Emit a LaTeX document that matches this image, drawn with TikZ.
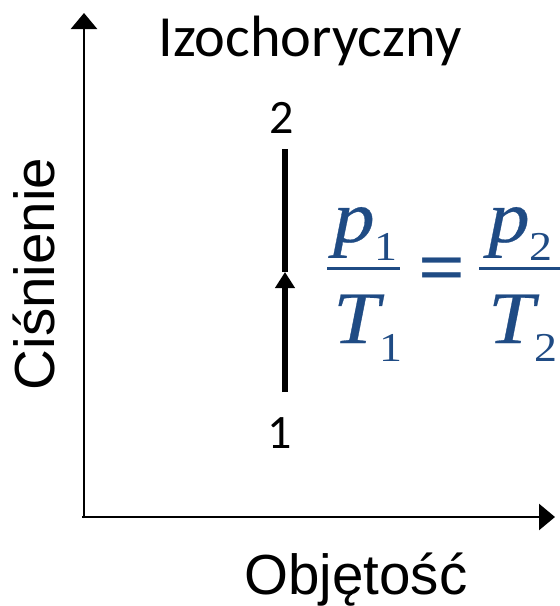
\documentclass[tikz,border=0pt]{standalone}
\usepackage{fontspec}
\setmainfont{Carlito}
\newfontfamily\arialfont{Liberation Sans}
\newfontfamily\timesfont{Liberation Serif}[ItalicFeatures={FakeBold=0.4}]
\usepackage{tikz}
\usetikzlibrary{arrows.meta}
\definecolor{formblue}{RGB}{31,75,132}
\newcommand{\formsub}[1]{\raisebox{-18pt}{\upshape\fontsize{41}{44}\selectfont #1}}

\begin{document}
\begin{tikzpicture}[x=1pt, y=-1pt,
        axis/.style = {line width=2.6pt, -{Triangle[width=26pt,length=16pt]}},
        isochore/.style = {line width=6.5pt},
        axislabel/.style = {font=\arialfont\fontsize{56.5}{60}\selectfont, inner sep=0pt, anchor=base},
        pointlabel/.style = {font=\fontsize{48}{52}\selectfont, inner sep=0pt},
        formtext/.style = {font=\timesfont\fontsize{74}{80}\selectfont\itshape, text=formblue, inner sep=0pt, anchor=base west, xscale=1.12, transform shape},
        formbar/.style = {formblue, line width=3pt}]
            \useasboundingbox (0,0) rectangle (560,606);
            \coordinate (O) at (84,517);
            \coordinate (Ytop) at (84,13);
            \coordinate (Xend) at (555,517);
            \coordinate (S1) at (285,392);
            \coordinate (S2) at (285,149);
            \coordinate (Smid) at (285,272);
            \draw[axis] ([yshift=-1.3pt]O) -- (Ytop);
            \draw[axis] ([xshift=-2pt]O) -- (Xend);
            \draw[isochore] (Smid) -- (S2);
            \draw[isochore, -{Triangle[width=19pt,length=16pt]}] (S1) -- (Smid);
            \node[pointlabel] (P2) at (282,118) {2};
            \node[pointlabel] (P1) at (280,433) {1};
            \node[font=\fontsize{58.3}{62}\selectfont, inner sep=0pt, anchor=base] (title) at (310,56) {Izochoryczny};
            \node[axislabel, rotate=90] (ylabel) at (54,274) {Ciśnienie};
            \node[axislabel] (xlabel) at (356,594) {Objętość};
            \coordinate (B1l) at (327,268);
            \coordinate (B1r) at (400,268);
            \coordinate (B2l) at (479,268);
            \coordinate (B2r) at (560,268);
            \draw[formbar] (B1l) -- (B1r);
            \draw[formbar] (B2l) -- (B2r);
            \node[formtext] (p1) at (333,242) {p\formsub{1}};
            \node[formtext] (T1) at (333,343) {T\formsub{1}};
            \node[formtext] (p2) at (488,242) {p\formsub{2}};
            \node[formtext] (T2) at (488,343) {T\formsub{2}};
            \node[formtext, font=\timesfont\fontsize{74}{80}\selectfont\bfseries, anchor=base, xscale=1] (eq) at (442,292) {=};
        \end{tikzpicture}
\end{document}
